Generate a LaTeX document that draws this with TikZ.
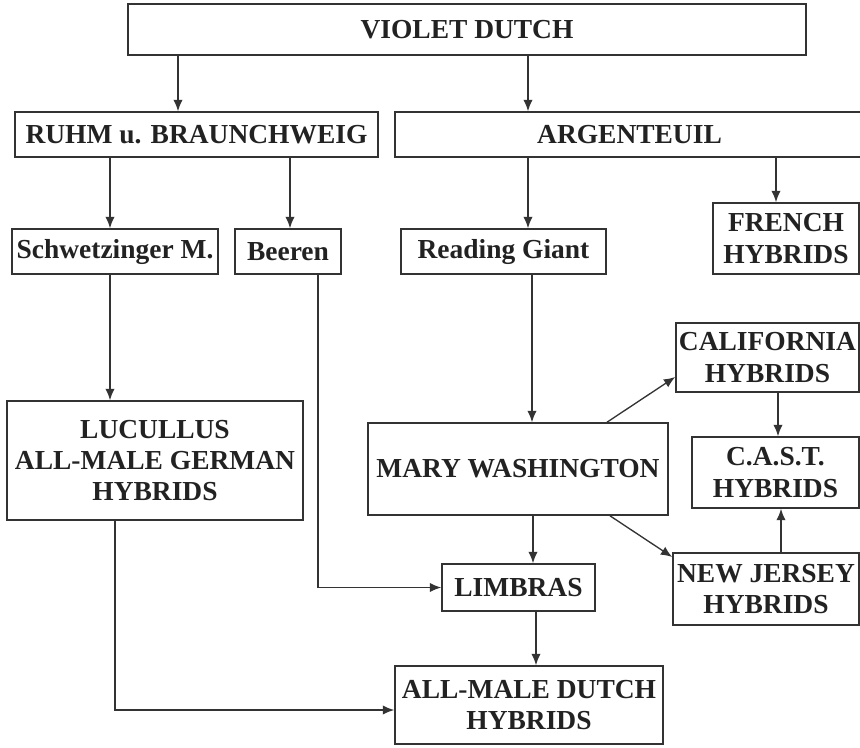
\documentclass[tikz,border=0pt]{standalone}
\usepackage{fontspec}
\setmainfont{Liberation Serif}
\usetikzlibrary{arrows.meta}
\definecolor{ink}{HTML}{333333}
\definecolor{textink}{HTML}{222222}
\newdimen\pxu \pxu=0.75pt
\tikzset{
  box/.style={draw=ink, line width=1.2pt, text=textink, inner sep=0pt, align=center,
    font=\bfseries\fontsize{20.6}{23.5}\selectfont},
  arr/.style={draw=ink, line width=1pt, -{Latex[length=8.5pt,width=7pt]}}
}
\begin{document}
\begin{tikzpicture}[x=0.75pt, y=-0.75pt]
        \useasboundingbox (0,0) rectangle (860,747);
        % boxes
        \node[box, minimum width=678\pxu, minimum height=51\pxu] (violet) at (467,29.5) {VIOLET DUTCH};
        \node[box, minimum width=363\pxu, minimum height=45\pxu] (ruhm) at (196.5,134.5) {RUHM u. BRAUNCHWEIG};
        \node[box, minimum width=469\pxu, minimum height=45\pxu] (argent) at (629.5,134.5) {ARGENTEUIL};
        \node[box, minimum width=206\pxu, minimum height=45\pxu] (schw) at (115,251.5) {Schwetzinger M.};
        \node[box, minimum width=106\pxu, minimum height=45\pxu] (beeren) at (288,251.5) {Beeren};
        \node[box, minimum width=205\pxu, minimum height=45\pxu] (reading) at (503.5,251.5) {Reading Giant};
        \node[box, minimum width=146\pxu, minimum height=71\pxu] (french) at (786,238.5) {FRENCH\\HYBRIDS};
        \node[box, minimum width=296\pxu, minimum height=119\pxu] (lucullus) at (155,460.5) {LUCULLUS\\ALL-MALE GERMAN\\HYBRIDS};
        \node[box, minimum width=300\pxu, minimum height=92\pxu] (mary) at (518,469) {MARY WASHINGTON};
        \node[box, minimum width=183\pxu, minimum height=69\pxu] (calif) at (767.5,357.5) {CALIFORNIA\\HYBRIDS};
        \node[box, minimum width=167\pxu, minimum height=71\pxu] (cast) at (775.5,472.5) {C.A.S.T.\\HYBRIDS};
        \node[box, minimum width=186\pxu, minimum height=72\pxu] (jersey) at (766,589) {NEW JERSEY\\HYBRIDS};
        \node[box, minimum width=153\pxu, minimum height=47\pxu] (limbras) at (518.5,587.5) {LIMBRAS};
        \node[box, minimum width=268\pxu, minimum height=78\pxu] (allmale) at (529,705) {ALL-MALE DUTCH\\HYBRIDS};
        % straight arrows
        \draw[arr] (violet.south -| 178,0) -- (ruhm.north -| 178,0);
        \draw[arr] (violet.south -| 528,0) -- (argent.north -| 528,0);
        \draw[arr] (ruhm.south -| 110,0) -- (schw.north -| 110,0);
        \draw[arr] (ruhm.south -| 290,0) -- (beeren.north -| 290,0);
        \draw[arr] (argent.south -| 528,0) -- (reading.north -| 528,0);
        \draw[arr] (argent.south -| 776,0) -- (french.north -| 776,0);
        \draw[arr] (schw.south -| 110,0) -- (lucullus.north -| 110,0);
        \draw[arr] (reading.south -| 532,0) -- (mary.north -| 532,0);
        \draw[arr] (mary.south -| 533,0) -- (limbras.north -| 533,0);
        \draw[arr] (limbras.south -| 536,0) -- (allmale.north -| 536,0);
        \draw[arr] (calif.south -| 778,0) -- (cast.north -| 778,0);
        \draw[arr] (jersey.north -| 781,0) -- (cast.south -| 781,0);
        % diagonal arrows
        \draw[arr] (mary.north -| 607,0) -- (calif.west |- 0,377);
        \draw[arr] (mary.south -| 610,0) -- (jersey.west |- 0,557);
        % elbow arrows
        \draw[arr] (beeren.south -| 318,0) |- (limbras.west);
        \draw[arr] (lucullus.south -| 115,0) |- (allmale.west |- 0,710);
\end{tikzpicture}
\end{document}
